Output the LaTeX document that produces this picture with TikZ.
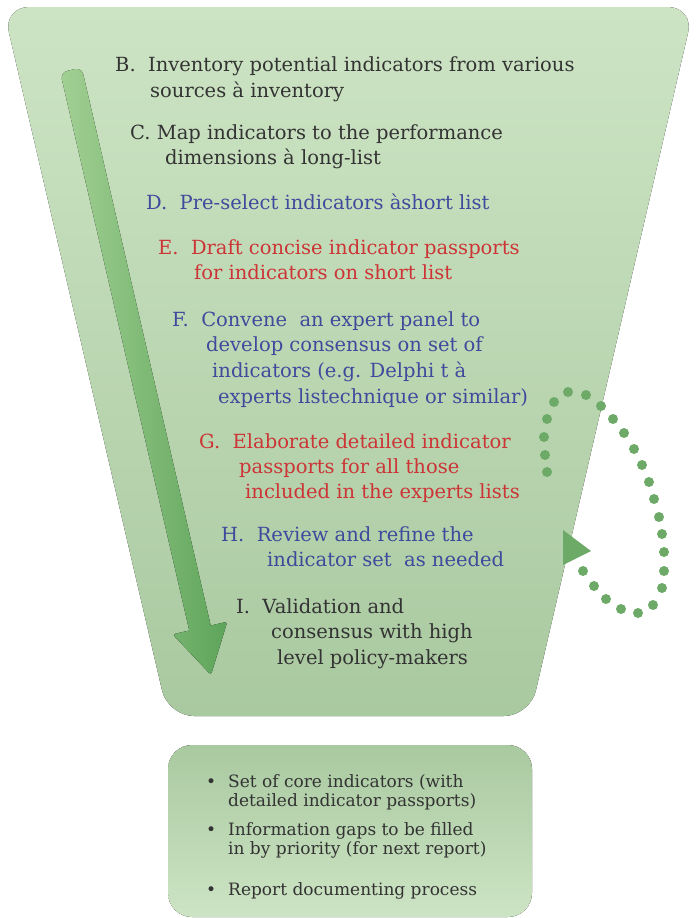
\documentclass[tikz,border=0pt]{standalone}
\usepackage{fontspec}
\setmainfont{DejaVu Serif}
\definecolor{fTop}{HTML}{CDE4C4}
\definecolor{fBot}{HTML}{A9C9A0}
\definecolor{aLeft}{HTML}{A2D094}
\definecolor{aRight}{HTML}{5EA45A}
\definecolor{dotc}{HTML}{6DAA67}
\definecolor{tBlack}{HTML}{333333}
\definecolor{tBlue}{HTML}{3E4A9C}
\definecolor{tRed}{HTML}{CC3436}
\begin{document}
\begin{tikzpicture}[x=1pt,y=-1pt,
  txt/.style={anchor=base west, inner sep=0pt, font=\fontsize{19.5}{23}\selectfont},
  btxt/.style={anchor=base west, inner sep=0pt, text=tBlack, font=\fontsize{17}{20}\selectfont},
  blk/.style={txt, text=tBlack},
  blu/.style={txt, text=tBlue},
  rd/.style={txt, text=tRed},
  loopdot/.style={fill=dotc, draw=none}]
\useasboundingbox (0,0) rectangle (696,918);
% funnel
\fill[top color=fTop, bottom color=fBot, rounded corners=26pt]
  (3,7) -- (694,7) -- (530,716) -- (168,716) -- cycle;
% big arrow
\fill[left color=aLeft, right color=aRight]
  [rounded corners=7pt] (189.3,630.5) -- (60.3,72.5) -- (81.7,67.5) [rounded corners=0pt] -- (210.7,625.5)
  [rounded corners=3pt] -- (227.3,621.7) -- (211,675) -- (172.7,634.3) [rounded corners=0pt] -- cycle;
% dotted loop
\foreach \px/\py in {547/472,545/455,544/437,547/419,554/402,568/392,586/395,601/406,613/419,624/433,634/449,642/465,649/482,654/499,659/517,662/534,664/552,664/571,662/588,653/605,638/613,621/609,606/599,594/586,583/571}
  \fill[loopdot] (\px,\py) circle (5pt);
\fill[dotc] (563,530) -- (591,551) -- (563,565) -- cycle;
% texts
\node[blk] (b1) at (115,71) {B.\ \ Inventory potential indicators from various};
\node[blk] (b2) at (150,97) {sources à inventory};
\node[blk] (c1) at (130,139) {C. Map indicators to the performance};
\node[blk] (c2) at (165,164) {dimensions à long-list};
\node[blu] (d1) at (146,209) {D.\ \ Pre-select indicators àshort list};
\node[rd] (e1) at (158,254) {E.\ \ Draft concise indicator passports};
\node[rd] (e2) at (194,279) {for indicators on short list};
\node[blu] (f1) at (172,326) {F.\ \ Convene\ \ an expert panel to};
\node[blu] (f2) at (206,351) {develop consensus on set of};
\node[blu] (f3) at (212,377) {indicators (e.g. Delphi t à};
\node[blu] (f4) at (218,403) {experts listechnique or similar)};
\node[rd] (g1) at (199,448) {G.\ \ Elaborate detailed indicator};
\node[rd] (g2) at (239,473) {passports for all those};
\node[rd] (g3) at (245,498) {included in the experts lists};
\node[blu] (h1) at (221,541) {H.\ \ Review and refine the};
\node[blu] (h2) at (267,566) {indicator set\ \ as needed};
\node[blk] (i1) at (236,613) {I.\ \ Validation and};
\node[blk] (i2) at (271,638) {consensus with high};
\node[blk] (i3) at (277,664) {level policy-makers};
% output box
\fill[top color=fBot, bottom color=fTop, rounded corners=24pt] (168,745) rectangle (532,917);
\node[btxt] (k1) at (206,787) {\textbullet};
\node[btxt] (o1) at (228,787) {Set of core indicators (with};
\node[btxt] (o1b) at (228,806) {detailed indicator passports)};
\node[btxt] (k2) at (206,835) {\textbullet};
\node[btxt] (o2) at (228,835) {Information gaps to be filled};
\node[btxt] (o2b) at (228,854) {in by priority (for next report)};
\node[btxt] (k3) at (206,895) {\textbullet};
\node[btxt] (o3) at (228,895) {Report documenting process};
\end{tikzpicture}
\end{document}
